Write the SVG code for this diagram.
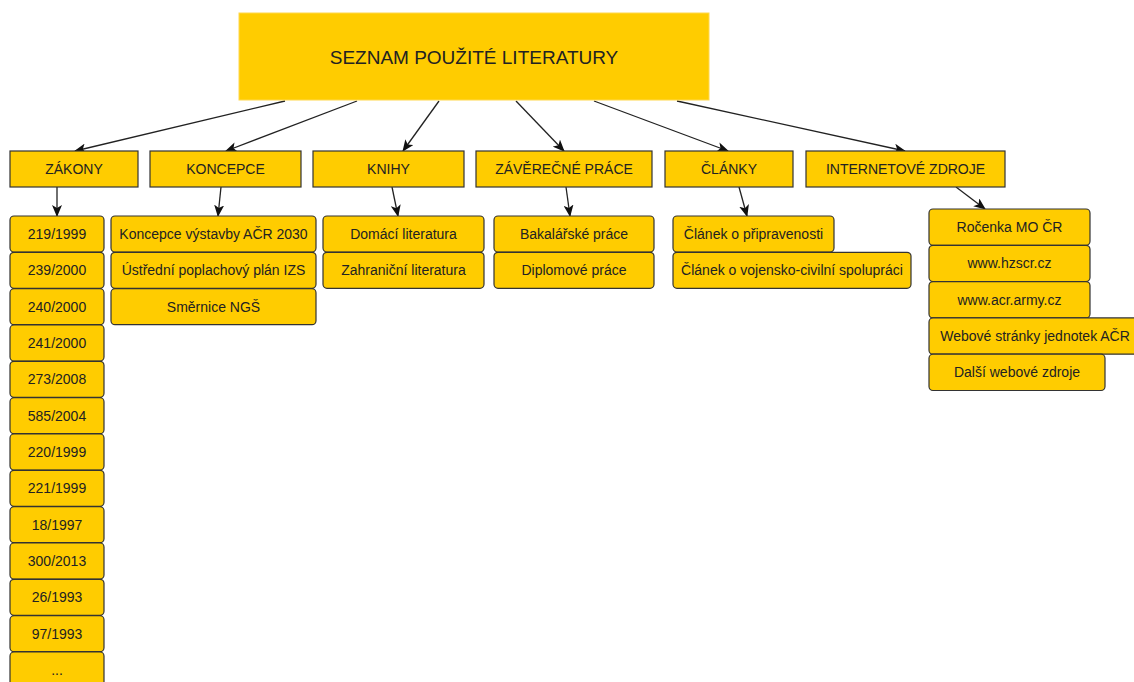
<svg xmlns="http://www.w3.org/2000/svg" width="1134" height="682" viewBox="0 0 1134 682">
<style>
.t{fill:#FFCC00;stroke:#FFD84D;stroke-width:1}
.c{fill:#FFCC00;stroke:#333;stroke-width:1.2}
.i{fill:#FFCC00;stroke:#333;stroke-width:1.2}
text{font-family:"Liberation Sans",Arial,sans-serif;fill:#222;text-anchor:middle}
.tt{font-size:19px}
.ct{font-size:14px}
.it{font-size:14px}
.e{stroke:#222;stroke-width:1.3;fill:none;marker-end:url(#ah)}
</style>
<defs>
<marker id="ah" viewBox="0 0 12 10" refX="11" refY="5" markerWidth="12" markerHeight="10" markerUnits="userSpaceOnUse" orient="auto">
<path d="M0,0 L12,5 L0,10 L3,5 Z" fill="#111"/>
</marker>
</defs>
<rect width="1134" height="682" fill="#fff"/>
<g id="connectors">
<line class="e" x1="285" y1="101" x2="75" y2="151"/>
<line class="e" x1="357" y1="101" x2="226" y2="151"/>
<line class="e" x1="439" y1="101" x2="403" y2="151"/>
<line class="e" x1="516" y1="101" x2="564" y2="151"/>
<line class="e" x1="594" y1="101" x2="728" y2="151"/>
<line class="e" x1="677" y1="101" x2="905" y2="151"/>
<line class="e" x1="57" y1="187" x2="57" y2="216"/>
<line class="e" x1="221" y1="187" x2="218" y2="216"/>
<line class="e" x1="392" y1="187" x2="398" y2="216"/>
<line class="e" x1="566" y1="187" x2="570" y2="216"/>
<line class="e" x1="739" y1="187" x2="747" y2="216"/>
<line class="e" x1="956" y1="187" x2="985" y2="209"/>
</g>
<g id="root"><rect class="t" x="239" y="13" width="470" height="87"/><text class="tt" x="474" y="64">SEZNAM POUŽITÉ LITERATURY</text></g>
<g id="cat-zakony"><rect class="c" x="10" y="151" width="128" height="36"/><text class="ct" x="74" y="174">ZÁKONY</text></g>
<g id="cat-koncepce"><rect class="c" x="150" y="151" width="151" height="36"/><text class="ct" x="225.5" y="174">KONCEPCE</text></g>
<g id="cat-knihy"><rect class="c" x="313" y="151" width="151" height="36"/><text class="ct" x="388.5" y="174">KNIHY</text></g>
<g id="cat-zaverecne"><rect class="c" x="476" y="151" width="176" height="36"/><text class="ct" x="564" y="174">ZÁVĚREČNÉ PRÁCE</text></g>
<g id="cat-clanky"><rect class="c" x="665" y="151" width="128" height="36"/><text class="ct" x="729" y="174">ČLÁNKY</text></g>
<g id="cat-internet"><rect class="c" x="806" y="151" width="199" height="36"/><text class="ct" x="905.5" y="174">INTERNETOVÉ ZDROJE</text></g>
<g id="z1"><rect class="i" x="10" y="216" width="94" height="36" rx="4"/><text class="it" x="57" y="239">219/1999</text></g>
<g id="z2"><rect class="i" x="10" y="252.3" width="94" height="36" rx="4"/><text class="it" x="57" y="275.3">239/2000</text></g>
<g id="z3"><rect class="i" x="10" y="288.7" width="94" height="36" rx="4"/><text class="it" x="57" y="311.7">240/2000</text></g>
<g id="z4"><rect class="i" x="10" y="325" width="94" height="36" rx="4"/><text class="it" x="57" y="348">241/2000</text></g>
<g id="z5"><rect class="i" x="10" y="361.3" width="94" height="36" rx="4"/><text class="it" x="57" y="384.3">273/2008</text></g>
<g id="z6"><rect class="i" x="10" y="397.7" width="94" height="36" rx="4"/><text class="it" x="57" y="420.7">585/2004</text></g>
<g id="z7"><rect class="i" x="10" y="434" width="94" height="36" rx="4"/><text class="it" x="57" y="457">220/1999</text></g>
<g id="z8"><rect class="i" x="10" y="470.3" width="94" height="36" rx="4"/><text class="it" x="57" y="493.3">221/1999</text></g>
<g id="z9"><rect class="i" x="10" y="506.7" width="94" height="36" rx="4"/><text class="it" x="57" y="529.7">18/1997</text></g>
<g id="z10"><rect class="i" x="10" y="543" width="94" height="36" rx="4"/><text class="it" x="57" y="566">300/2013</text></g>
<g id="z11"><rect class="i" x="10" y="579.3" width="94" height="36" rx="4"/><text class="it" x="57" y="602.3">26/1993</text></g>
<g id="z12"><rect class="i" x="10" y="615.7" width="94" height="36" rx="4"/><text class="it" x="57" y="638.7">97/1993</text></g>
<g id="z13"><rect class="i" x="10" y="652" width="94" height="36" rx="4"/><text class="it" x="57" y="675">...</text></g>
<g id="k1"><rect class="i" x="111" y="216" width="205" height="36" rx="4"/><text class="it" x="213.5" y="239">Koncepce výstavby AČR 2030</text></g>
<g id="k2"><rect class="i" x="111" y="252.3" width="205" height="36" rx="4"/><text class="it" x="213.5" y="275.3">Ústřední poplachový plán IZS</text></g>
<g id="k3"><rect class="i" x="111" y="288.7" width="205" height="36" rx="4"/><text class="it" x="213.5" y="311.7">Směrnice NGŠ</text></g>
<g id="n1"><rect class="i" x="323" y="216" width="161" height="36" rx="4"/><text class="it" x="403.5" y="239">Domácí literatura</text></g>
<g id="n2"><rect class="i" x="323" y="252.3" width="161" height="36" rx="4"/><text class="it" x="403.5" y="275.3">Zahraniční literatura</text></g>
<g id="p1"><rect class="i" x="494" y="216" width="160" height="36" rx="4"/><text class="it" x="574" y="239">Bakalářské práce</text></g>
<g id="p2"><rect class="i" x="494" y="252.3" width="160" height="36" rx="4"/><text class="it" x="574" y="275.3">Diplomové práce</text></g>
<g id="c1"><rect class="i" x="673" y="216" width="161" height="36" rx="4"/><text class="it" x="753.5" y="239">Článek o připravenosti</text></g>
<g id="c2"><rect class="i" x="673" y="252.3" width="238" height="36" rx="4"/><text class="it" x="792" y="275.3">Článek o vojensko-civilní spolupráci</text></g>
<g id="w1"><rect class="i" x="929" y="209" width="161" height="36.3" rx="4"/><text class="it" x="1009.5" y="232">Ročenka MO ČR</text></g>
<g id="w2"><rect class="i" x="929" y="245.3" width="161" height="36.3" rx="4"/><text class="it" x="1009.5" y="268.3">www.hzscr.cz</text></g>
<g id="w3"><rect class="i" x="929" y="281.6" width="161" height="36.3" rx="4"/><text class="it" x="1009.5" y="304.6">www.acr.army.cz</text></g>
<g id="w4"><rect class="i" x="929" y="317.9" width="212" height="36.3" rx="4"/><text class="it" x="1035" y="340.9">Webové stránky jednotek AČR</text></g>
<g id="w5"><rect class="i" x="929" y="354.2" width="176" height="36.3" rx="4"/><text class="it" x="1017" y="377.2">Další webové zdroje</text></g>
</svg>
